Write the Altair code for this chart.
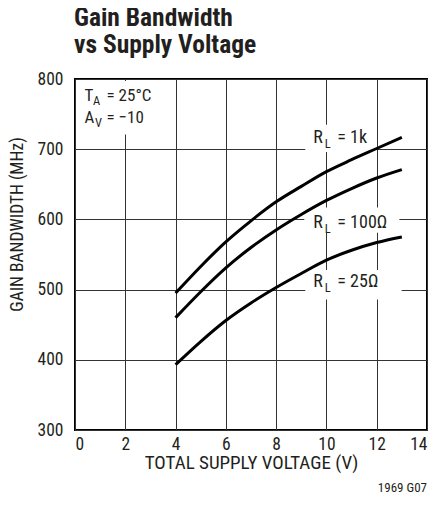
import altair as alt
import pandas as pd

# ---- data ----
volts = [4, 5, 6, 7, 8, 9, 10, 11, 12, 13]
gbw_1k = [495, 533, 568, 598, 625, 647, 668, 685, 701, 717]
gbw_100 = [460, 497, 531, 560, 585, 607, 627, 644, 659, 671]
gbw_25 = [393, 426, 456, 481, 503, 523, 542, 556, 567, 575]
series_names = ["RL = 1k", "RL = 100Ω", "RL = 25Ω"]

x_ticks = [0, 2, 4, 6, 8, 10, 12, 14]
y_ticks = [300, 400, 500, 600, 700, 800]

# curve labels (R + subscript L + rest), anchor in data units
lab_x = [9.48, 9.48, 9.48]
lab_y = [708.5, 588, 503]
lab_main = ["R", "R", "R"]
lab_sub = ["L", "L", "L"]
lab_rest = ["= 1k", "= 100Ω", "= 25Ω"]

# white label backgrounds (data units)
box_x1 = [9.16, 9.12, 9.16, 0.06]
box_x2 = [11.85, 12.9, 12.99, 3.5]
box_y1 = [696, 581, 486, 721]
box_y2 = [735, 617, 528, 797]

# condition annotation
cond_x = [0.38, 0.38]
cond_y = [769, 737]
cond_main = ["T", "A"]
cond_sub = ["A", "V"]
cond_rest = ["= 25°C", "= −10"]

FONT = "Roboto Condensed, Roboto, sans-serif"
INK = "#231f20"

rows = []
for name, vals in zip(series_names, [gbw_1k, gbw_100, gbw_25]):
    for v, g in zip(volts, vals):
        rows.append({"v": v, "g": g, "series": name})
curves = pd.DataFrame(rows)

labels = pd.DataFrame({"v": lab_x, "g": lab_y, "main": lab_main,
                       "sub": lab_sub, "rest": lab_rest})
boxes = pd.DataFrame({"v": box_x1, "v2": box_x2, "g": box_y1, "g2": box_y2})
cond1 = pd.DataFrame({"v": cond_x[:1], "g": cond_y[:1], "main": cond_main[:1],
                      "sub": cond_sub[:1], "rest": cond_rest[:1]})
cond2 = pd.DataFrame({"v": cond_x[1:], "g": cond_y[1:], "main": cond_main[1:],
                      "sub": cond_sub[1:], "rest": cond_rest[1:]})

XT = "TOTAL SUPPLY VOLTAGE (V)"
YT = "GAIN BANDWIDTH (MHz)"
xs = alt.Scale(domain=[0, 14], nice=False, zero=False)
ys = alt.Scale(domain=[300, 800], nice=False, zero=False)

X = alt.X("v:Q", scale=xs, title=XT,
          axis=alt.Axis(values=x_ticks, labelPadding=5, titleY=38,
                        titleFontSize=19, titleBaseline="alphabetic"))
Y = alt.Y("g:Q", scale=ys, title=YT,
          axis=alt.Axis(values=y_ticks, labelPadding=12, titleAngle=270,
                        titleX=-58, titleY=145, titleAlign="center",
                        titleFontSize=17.5, titleBaseline="middle"))

rects = alt.Chart(boxes).mark_rect(fill="white", stroke=None).encode(
    x=X, x2="v2:Q", y=Y, y2="g2:Q")

lines = alt.Chart(curves).mark_line(
    color="black", strokeWidth=3, interpolate="monotone").encode(
    x=X, y=Y, detail="series:N")


def label_layers(df, size, sub_size, sub_dx, rest_dx, sub_dy):
    b = alt.Chart(df).encode(x=X, y=Y)
    m = b.mark_text(align="left", baseline="alphabetic", font=FONT,
                    fontSize=size, color=INK).encode(text="main:N")
    s = b.mark_text(align="left", baseline="alphabetic", font=FONT,
                    fontSize=sub_size, color=INK, dx=sub_dx, dy=sub_dy).encode(text="sub:N")
    r = b.mark_text(align="left", baseline="alphabetic", font=FONT,
                    fontSize=size, color=INK, dx=rest_dx).encode(text="rest:N")
    return [m, s, r]


code = alt.Chart(pd.DataFrame({"t": ["1969 G07"]})).mark_text(
    align="right", baseline="alphabetic", font=FONT, fontSize=13, color=INK
).encode(x=alt.value(352), y=alt.value(413), text="t:N")

layers = [rects, lines]
layers += label_layers(labels, 18, 12.5, 11.5, 24, 5)
layers += label_layers(cond1, 17, 12.5, 8.5, 22, 4)
layers += label_layers(cond2, 17, 12.5, 10.5, 22, 4)
layers.append(code)

chart = alt.layer(*layers).properties(
    width=352, height=351,
    autosize=alt.AutoSizeParams(type="none"),
    padding={"left": 67, "top": 71, "right": 2, "bottom": 70},
    title=alt.TitleParams(["Gain Bandwidth", "vs Supply Voltage"],
                          anchor="start", frame="group", font=FONT,
                          fontSize=25.5, fontWeight="bold", lineHeight=27,
                          color=INK, offset=12, dx=-1),
).configure_axis(
    grid=True, gridColor="#333", gridWidth=1, domain=False, ticks=False,
    labelFont=FONT, labelFontSize=17.5, labelColor=INK,
    titleFont=FONT, titleFontWeight="normal", titleColor=INK,
).configure_view(stroke="black", strokeWidth=2)

chart.save("out.html", embed_options={"renderer": "svg", "actions": False})
